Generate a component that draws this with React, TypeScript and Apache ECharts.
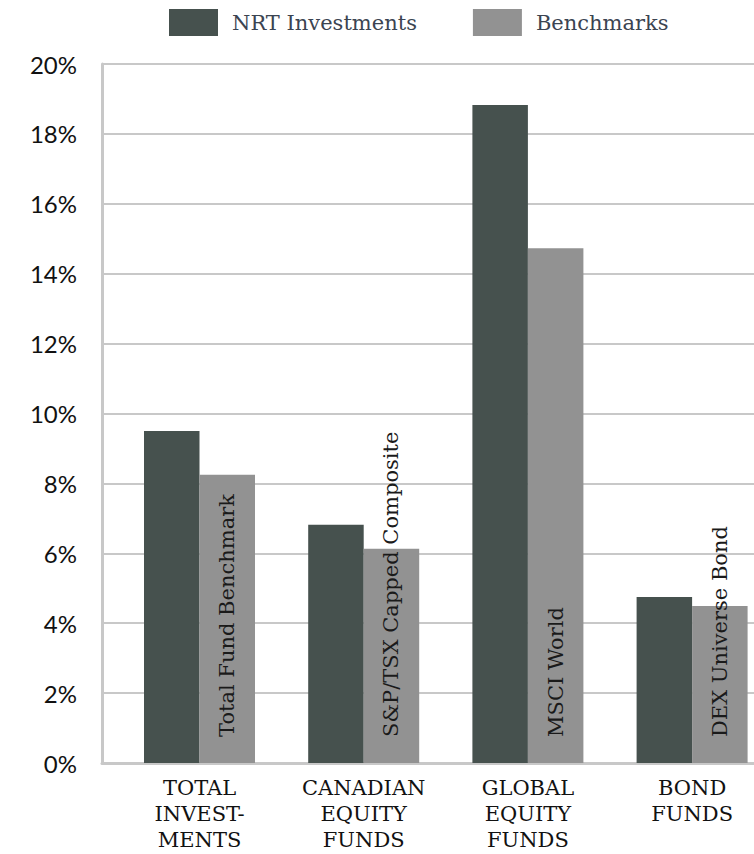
import React, { useEffect, useRef } from "react";
import * as echarts from "echarts";

const categories = ["TOTAL\nINVEST-\nMENTS", "CANADIAN\nEQUITY\nFUNDS", "GLOBAL\nEQUITY\nFUNDS", "BOND\nFUNDS"];
const nrtValues = [9.5, 6.82, 18.83, 4.75];
const benchmarkValues = [8.25, 6.13, 14.73, 4.49];
const benchmarkNames = ["Total Fund Benchmark", "S&P/TSX Capped Composite", "MSCI World", "DEX Universe Bond"];
const seriesNames = ["NRT Investments", "Benchmarks"];
const yTicks = { min: 0, max: 20, interval: 2 };

const DARK = "#46514e";
const GRAY = "#929292";
const LINE = "#c8c8c8";
const SERIF = "'DejaVu Serif', serif";

export default function App() {
  const ref = useRef<HTMLDivElement>(null);
  useEffect(() => {
    if (!ref.current) return;
    const chart = echarts.init(ref.current, undefined, { renderer: "svg" });
    chart.setOption({
      animation: false,
      color: [DARK, GRAY],
      legend: {
        left: 169,
        top: 9,
        padding: 0,
        itemWidth: 49,
        itemHeight: 27,
        itemGap: 56,
        icon: "rect",
        textStyle: { fontFamily: SERIF, fontSize: 21, color: "#3b4451", padding: [0, 0, 0, 9] },
        data: seriesNames,
      },
      grid: [
        { left: 102, right: 0, top: 64, bottom: 91, outerBoundsMode: "none", containLabel: false },
        { left: 117.4, width: 656.8, top: 64, bottom: 91, outerBoundsMode: "none", containLabel: false },
      ],
      xAxis: [
        {
          gridIndex: 0,
          type: "value",
          show: true,
          min: 0,
          max: 1,
          axisLine: { show: true, onZero: false, lineStyle: { color: LINE, width: 3 } },
          axisTick: { show: false },
          axisLabel: { show: false },
          splitLine: { show: false },
        },
        {
          gridIndex: 1,
          type: "category",
          data: categories,
          axisLine: { show: false },
          axisTick: { show: false },
          axisLabel: {
            interval: 0,
            margin: 12,
            fontFamily: SERIF,
            fontSize: 21,
            lineHeight: 26,
            color: "#111",
            align: "center",
          },
        },
      ],
      yAxis: [
        {
          gridIndex: 0,
          type: "value",
          min: yTicks.min,
          max: yTicks.max,
          interval: yTicks.interval,
          axisLine: { show: true, lineStyle: { color: LINE, width: 3 } },
          axisTick: { show: false },
          axisLabel: {
            margin: 25,
            fontFamily: "Lato",
            fontSize: 24,
            color: "#111",
            formatter: "{value}%",
          },
          splitLine: { show: true, lineStyle: { color: LINE, width: 2 } },
        },
        {
          gridIndex: 1,
          type: "value",
          min: yTicks.min,
          max: yTicks.max,
          interval: yTicks.interval,
          show: false,
        },
      ],
      series: [
        {
          name: seriesNames[0],
          type: "bar",
          xAxisIndex: 1,
          yAxisIndex: 1,
          data: nrtValues,
          barWidth: 55.5,
          barGap: "0%",
          itemStyle: { color: DARK },
        },
        {
          name: seriesNames[1],
          type: "bar",
          xAxisIndex: 1,
          yAxisIndex: 1,
          data: benchmarkValues,
          barWidth: 55.5,
          barGap: "0%",
          itemStyle: { color: GRAY },
          label: {
            show: true,
            position: "insideBottom",
            distance: 26,
            rotate: 90,
            align: "left",
            verticalAlign: "middle",
            fontFamily: SERIF,
            fontSize: 21,
            color: "#1a1a1a",
            formatter: (p: any) => benchmarkNames[p.dataIndex],
          },
        },
      ],
    });
    return () => chart.dispose();
  }, []);
  return (
    <div
      ref={ref}
      style={{ position: "fixed", left: 0, top: 0, width: 754, height: 854, background: "#fff" }}
    />
  );
}
